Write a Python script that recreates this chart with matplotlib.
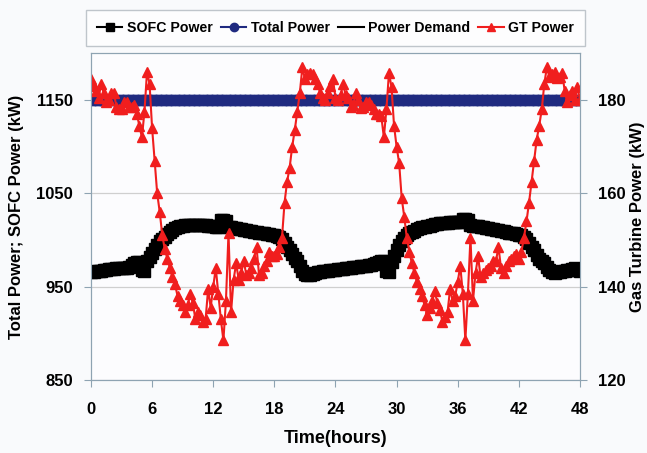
import numpy as np
import matplotlib
matplotlib.use('Agg')
import matplotlib.pyplot as plt


# time axis, every 15 minutes over two days
time_h = np.arange(0, 48.25, 0.25)

sofc_power = [
    966, 966, 966.5, 967, 967, 967.5, 968, 968.5,
    969, 969, 969.5, 969.5, 970, 970, 970.5, 971,
    973, 975, 976, 976, 968, 967, 978, 982,
    986, 990, 995, 999, 1001, 1003, 1006, 1009,
    1011, 1013, 1014, 1015, 1015.5, 1016, 1016, 1016,
    1016.5, 1016.5, 1016.5, 1016, 1016, 1016, 1015.5, 1015,
    1014.5, 1014, 1014, 1021, 1021, 1020, 1014, 1013.5,
    1013, 1012.5, 1012, 1011.5, 1011, 1010.5, 1010, 1009.5,
    1009, 1008.5, 1008, 1007.5, 1007, 1006.5, 1006, 1005.5,
    1005, 1004, 1003, 1001, 997, 993, 989, 985,
    981, 977, 972, 967, 964, 963, 963, 964,
    965, 965.5, 966, 966.5, 967, 967, 967.5, 968,
    968, 968.5, 969, 969, 969.5, 970, 970.5, 971,
    971, 971.5, 972, 972, 972.5, 973, 973.5, 974,
    975, 976, 977, 978, 967, 966, 976, 983,
    989, 995, 999, 1002, 1005, 1007, 1008.5, 1010,
    1011.5, 1012.5, 1013.5, 1014, 1015, 1015.5, 1016, 1017,
    1017.5, 1018, 1018, 1018.5, 1018.5, 1019, 1019, 1019,
    1019, 1019, 1022, 1022, 1021, 1016, 1015.5, 1015,
    1014.5, 1014, 1013.5, 1013, 1012.5, 1012, 1011.5, 1011,
    1010.5, 1010, 1009.5, 1009, 1008, 1007.5, 1007, 1006,
    1005.5, 1005, 1003, 1001, 997, 993, 989, 984,
    980, 977, 975, 971, 968, 966, 965, 965.5,
    966, 966.5, 967, 967.5, 968, 969, 969.5, 968,
    967,
]

gt_power = [
    184.5, 183, 182, 180.5, 183.5, 181.5, 179.5, 180,
    181.5, 181.5, 178.5, 178, 178, 179.5, 179.5, 178.5,
    178.5, 179, 177, 174.5, 172, 177.5, 186, 183.5,
    174, 167, 160, 156, 151, 148, 146, 144,
    142, 140.5, 138, 137, 136, 134.5, 136, 138.5,
    136.5, 133, 134.5, 134, 132.5, 133, 139.5, 135.5,
    140, 144, 138.5, 133, 128.5, 137, 151.5, 134.5,
    141.5, 145, 141.5, 143, 145.5, 142.5, 143, 144,
    146, 148.5, 142.5, 143, 144.5, 145.5, 147.5, 146.5,
    146.5, 147, 148.5, 150.5, 158, 162.5, 165.5, 170,
    173.5, 177.5, 181.5, 187, 184.5, 185.5, 185.8, 185.5,
    184.5, 183.5, 181.5, 180.5, 180, 181.5, 183, 184.5,
    180.5, 180, 181, 183.5, 181, 180.5, 178.5, 179,
    181.5, 180, 178.3, 178.5, 179.5, 179.5, 179, 178,
    177, 177, 176.5, 172, 178, 185.8, 182.8, 174.5,
    170, 166.5, 159, 155, 150.5, 147.5, 145, 143,
    141, 139.5, 138, 136, 134, 135.5, 137, 139,
    136.5, 135, 132.5, 133.5, 134.5, 139.5, 137, 138,
    141, 144.5, 138.5, 128.5, 138.5, 150.5, 137, 143,
    146.5, 142, 143, 143.5, 144, 144.5, 145.5, 145.5,
    148.5, 144, 143, 144.5, 145.5, 146, 146.5, 147,
    146, 147.5, 150.5, 154, 158, 162.5, 167, 171.5,
    174.5, 178, 183.5, 187, 185, 185.5, 186, 184.7,
    185, 185.8, 182, 179.5, 181, 182, 180, 182.8,
    180,
]

# total power follows the demand set point (flat 1150 kW)
total_power = [1150] * len(time_h)
power_demand = [1150] * len(time_h)

x_ticks = [0, 6, 12, 18, 24, 30, 36, 42, 48]
left_ticks = [850, 950, 1050, 1150]
right_ticks = [120, 140, 160, 180]

plt.rcParams['font.family'] = ['Liberation Sans', 'DejaVu Sans']
plt.rcParams['font.weight'] = 'bold'

spine_col = '#8ea3b2'
navy = '#1f2a80'
red = '#f01e1e'

fig = plt.figure(figsize=(6.47, 4.53), dpi=100, facecolor='#f9fafc')
ax = fig.add_axes([0.1406, 0.1611, 0.7558, 0.7211])
ax.set_facecolor('#fcfcfe')

l_total, = ax.plot(time_h, total_power, color=navy, marker='o', markersize=7.5,
                   linewidth=1.5, label='Total Power', zorder=3)
l_dem, = ax.plot(time_h, power_demand, color='black', linewidth=1.5,
                 label='Power Demand', zorder=2)
l_sofc, = ax.plot(time_h, sofc_power, color='black', marker='s', markersize=8,
                  linewidth=1.5, label='SOFC Power', zorder=4)

ax.set_xlim(0, 48)
ax.set_ylim(850, 1200)
ax.set_xticks(x_ticks)
ax.set_yticks(left_ticks)
ax.yaxis.grid(True, color='#cfcfcf', linewidth=0.9)
ax.set_axisbelow(True)
ax.set_xlabel('Time(hours)', fontsize=13, fontweight='bold', labelpad=9)
ax.set_ylabel('Total Power; SOFC Power (kW)', fontsize=12, fontweight='bold', labelpad=9)

ax2 = ax.twinx()
l_gt, = ax2.plot(time_h, gt_power, color=red, marker='^', markersize=7,
                 linewidth=1.5, label='GT Power')
ax2.set_ylim(120, 190)
ax2.set_yticks(right_ticks)
ax2.set_ylabel('Gas Turbine Power (kW)', fontsize=12, fontweight='bold', labelpad=3)

for a in (ax, ax2):
    for s in a.spines.values():
        s.set_color(spine_col)
    a.tick_params(colors=spine_col, labelcolor='black', labelsize=12, length=5)
    for lab in a.get_xticklabels() + a.get_yticklabels():
        lab.set_fontweight('bold')
ax.tick_params(axis='x', pad=11)
ax.tick_params(axis='y', pad=8)
ax2.tick_params(axis='y', pad=8)

leg = fig.legend(handles=[l_sofc, l_total, l_dem, l_gt], loc='center',
                 bbox_to_anchor=(0.5185, 0.938), ncol=4, fontsize=10.2,
                 frameon=True, fancybox=False, handlelength=1.8,
                 handletextpad=0.3, columnspacing=0.6, borderpad=0.8)
leg.get_frame().set_edgecolor('#b0b8bf')
leg.get_frame().set_facecolor('white')
for h in leg.legend_handles:
    h.set_markersize(6)
for t in leg.get_texts():
    t.set_fontweight('bold')

plt.savefig('out.png', dpi=100, facecolor=fig.get_facecolor())
